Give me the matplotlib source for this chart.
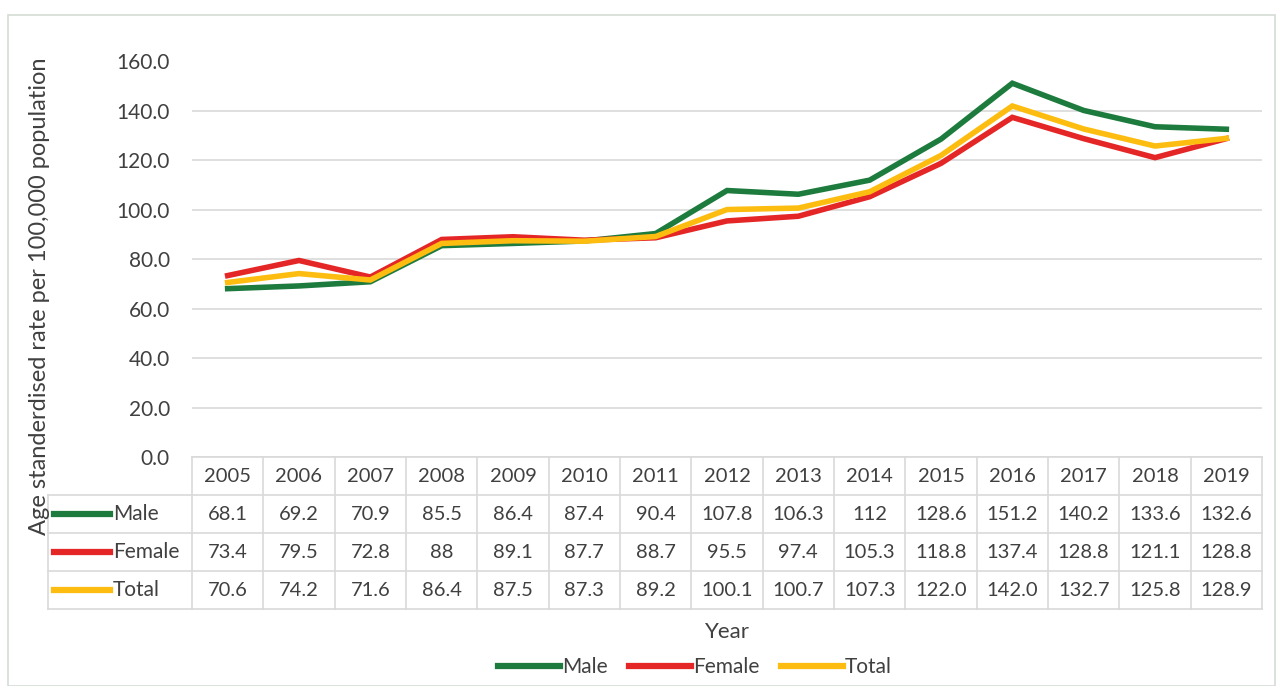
import matplotlib.pyplot as plt
from matplotlib.lines import Line2D
from matplotlib.patches import Rectangle

years = ["2005", "2006", "2007", "2008", "2009", "2010", "2011", "2012",
         "2013", "2014", "2015", "2016", "2017", "2018", "2019"]
male = [68.1, 69.2, 70.9, 85.5, 86.4, 87.4, 90.4, 107.8, 106.3, 112,
        128.6, 151.2, 140.2, 133.6, 132.6]
female = [73.4, 79.5, 72.8, 88, 89.1, 87.7, 88.7, 95.5, 97.4, 105.3,
          118.8, 137.4, 128.8, 121.1, 128.8]
total = [70.6, 74.2, 71.6, 86.4, 87.5, 87.3, 89.2, 100.1, 100.7, 107.3,
         122.0, 142.0, 132.7, 125.8, 128.9]
male_txt = ["68.1", "69.2", "70.9", "85.5", "86.4", "87.4", "90.4", "107.8",
            "106.3", "112", "128.6", "151.2", "140.2", "133.6", "132.6"]
female_txt = ["73.4", "79.5", "72.8", "88", "89.1", "87.7", "88.7", "95.5",
              "97.4", "105.3", "118.8", "137.4", "128.8", "121.1", "128.8"]
total_txt = ["70.6", "74.2", "71.6", "86.4", "87.5", "87.3", "89.2", "100.1",
             "100.7", "107.3", "122.0", "142.0", "132.7", "125.8", "128.9"]

series = [("Male", male, male_txt, "#1e7b3e"),
          ("Female", female, female_txt, "#e52626"),
          ("Total", total, total_txt, "#fdbd10")]

plt.rcParams["font.family"] = ["Lato", "DejaVu Sans"]
TXT = "#404040"
GRID = "#d9d9d9"
FS = 14.5

W, H = 1283, 686
fig = plt.figure(figsize=(W / 100, H / 100), dpi=100)

# outer chart border
fig.patches.append(Rectangle((8 / W, 0), 1 - 16 / W, 1 - 15 / H, transform=fig.transFigure,
                             fill=False, edgecolor="#d4dcd4", lw=1.2))

x0, x1 = 192, 1262
y_top, y_zero = 61.5, 457
ax = fig.add_axes([x0 / W, 1 - y_zero / H, (x1 - x0) / W, (y_zero - y_top) / H])
n = len(years)
xs = list(range(n))
for name, vals, _, col in series:
    ax.plot(xs, vals, color=col, lw=4, solid_joinstyle="miter", label=name)
ax.set_xlim(-0.5, n - 0.5)
ax.set_ylim(0, 160)
ax.set_yticks(range(0, 161, 20))
ax.set_yticklabels([f"{v:.1f}" for v in range(0, 161, 20)], fontsize=15, color=TXT)
ax.tick_params(axis="y", length=0, pad=16)
ax.set_xticks([])
ax.grid(axis="y", color=GRID, lw=1.2)
ax.set_axisbelow(True)
for s in ax.spines.values():
    s.set_visible(False)

# data table below the axes (drawn in pixel coords of the figure)
row_h = 38
def fy(py):
    return 1 - py / H
def fx(px):
    return px / W
col_w = (x1 - x0) / n
tl = dict(transform=fig.transFigure, color=GRID, lw=1.2)
rows_y = [y_zero + i * row_h for i in range(5)]
# horizontal lines
fig.add_artist(Line2D([fx(x0), fx(x1)], [fy(rows_y[0])] * 2, **tl))
for ry in rows_y[1:]:
    fig.add_artist(Line2D([fx(48), fx(x1)], [fy(ry)] * 2, **tl))
# vertical lines
for i in range(n + 1):
    px = x0 + i * col_w
    fig.add_artist(Line2D([fx(px)] * 2, [fy(rows_y[0]), fy(rows_y[4])], **tl))
fig.add_artist(Line2D([fx(48)] * 2, [fy(rows_y[1]), fy(rows_y[4])], **tl))

for i, yr in enumerate(years):
    fig.text(fx(x0 + (i + 0.5) * col_w), fy(rows_y[0] + row_h / 2), yr,
             ha="center", va="center", fontsize=FS, color=TXT)
for r, (name, vals, labels, col) in enumerate(series):
    cy = fy(rows_y[r + 1] + row_h / 2)
    fig.add_artist(Line2D([fx(54), fx(110)], [cy, cy], transform=fig.transFigure,
                          color=col, lw=4.5))
    fig.text(fx(113), cy, name, ha="left", va="center", fontsize=FS + 0.5, color=TXT)
    for i, lab in enumerate(labels):
        fig.text(fx(x0 + (i + 0.5) * col_w), cy, lab, ha="center", va="center",
                 fontsize=FS, color=TXT)

fig.text(fx(40), fy(296), "Age standerdised rate per 100,000 population", rotation=90,
         ha="center", va="center", fontsize=17, color=TXT)
fig.text(fx(727), fy(632), "Year", ha="center", va="center", fontsize=16, color=TXT)

handles = [Line2D([], [], color=c, lw=4.5) for _, _, _, c in series]
fig.legend(handles, [s[0] for s in series], loc="center", bbox_to_anchor=(fx(695), fy(667)),
           ncol=3, frameon=False, fontsize=FS + 0.5, handlelength=3.0, handletextpad=0.1,
           columnspacing=1.0, labelcolor=TXT)

fig.savefig("out.png", dpi=100)
